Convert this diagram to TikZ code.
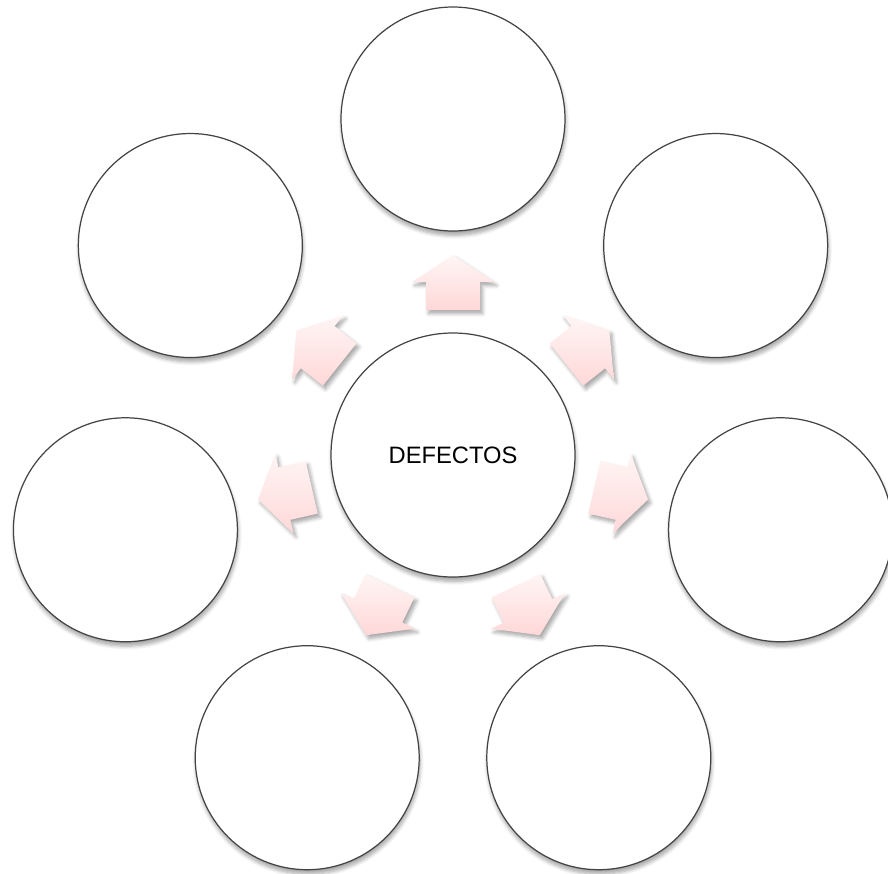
\documentclass[tikz,border=0pt]{standalone}
\usepackage{fontspec}
\setmainfont{Liberation Sans}
\usetikzlibrary{shadows.blur}

\definecolor{rimgray}{HTML}{444444}
\definecolor{arrowtop}{HTML}{FFF5F5}
\definecolor{arrowbot}{HTML}{FFD8D8}

\tikzset{
	hub/.style={circle, draw=rimgray, line width=0.7pt, fill=white, minimum size=4.88cm, inner sep=0pt,
		blur shadow={shadow xshift=0.5pt, shadow yshift=-2.5pt, shadow blur steps=6, shadow opacity=35}},
	petal/.style={hub, minimum size=4.48cm},
	blockarrow/.style={top color=arrowtop, bottom color=arrowbot,
		blur shadow={shadow xshift=1.5pt, shadow yshift=-2pt, shadow blur steps=5, shadow opacity=35}}
}

\begin{document}
\begin{tikzpicture}[font=\fontsize{13.5}{16}\selectfont]
	\useasboundingbox (-9.06,-8.36) rectangle (8.70,9.10);
	\node[hub] (defectos) at (0,0) {DEFECTOS};
	% seven circles round the hub, and an arrow pointing to each
	\foreach \i in {0,...,6} {
		\pgfmathsetmacro{\ang}{90-\i*360/7}
		\node[petal] (c\i) at (\ang:6.72) {};
		\shade[blockarrow, rotate around={\ang-90:(defectos.center)}]
			(-0.54,2.90) -- (-0.54,3.46) -- (-0.82,3.46) -- (0,4.00)
			-- (0.82,3.46) -- (0.54,3.46) -- (0.54,2.90) -- cycle;
	}
\end{tikzpicture}
\end{document}
